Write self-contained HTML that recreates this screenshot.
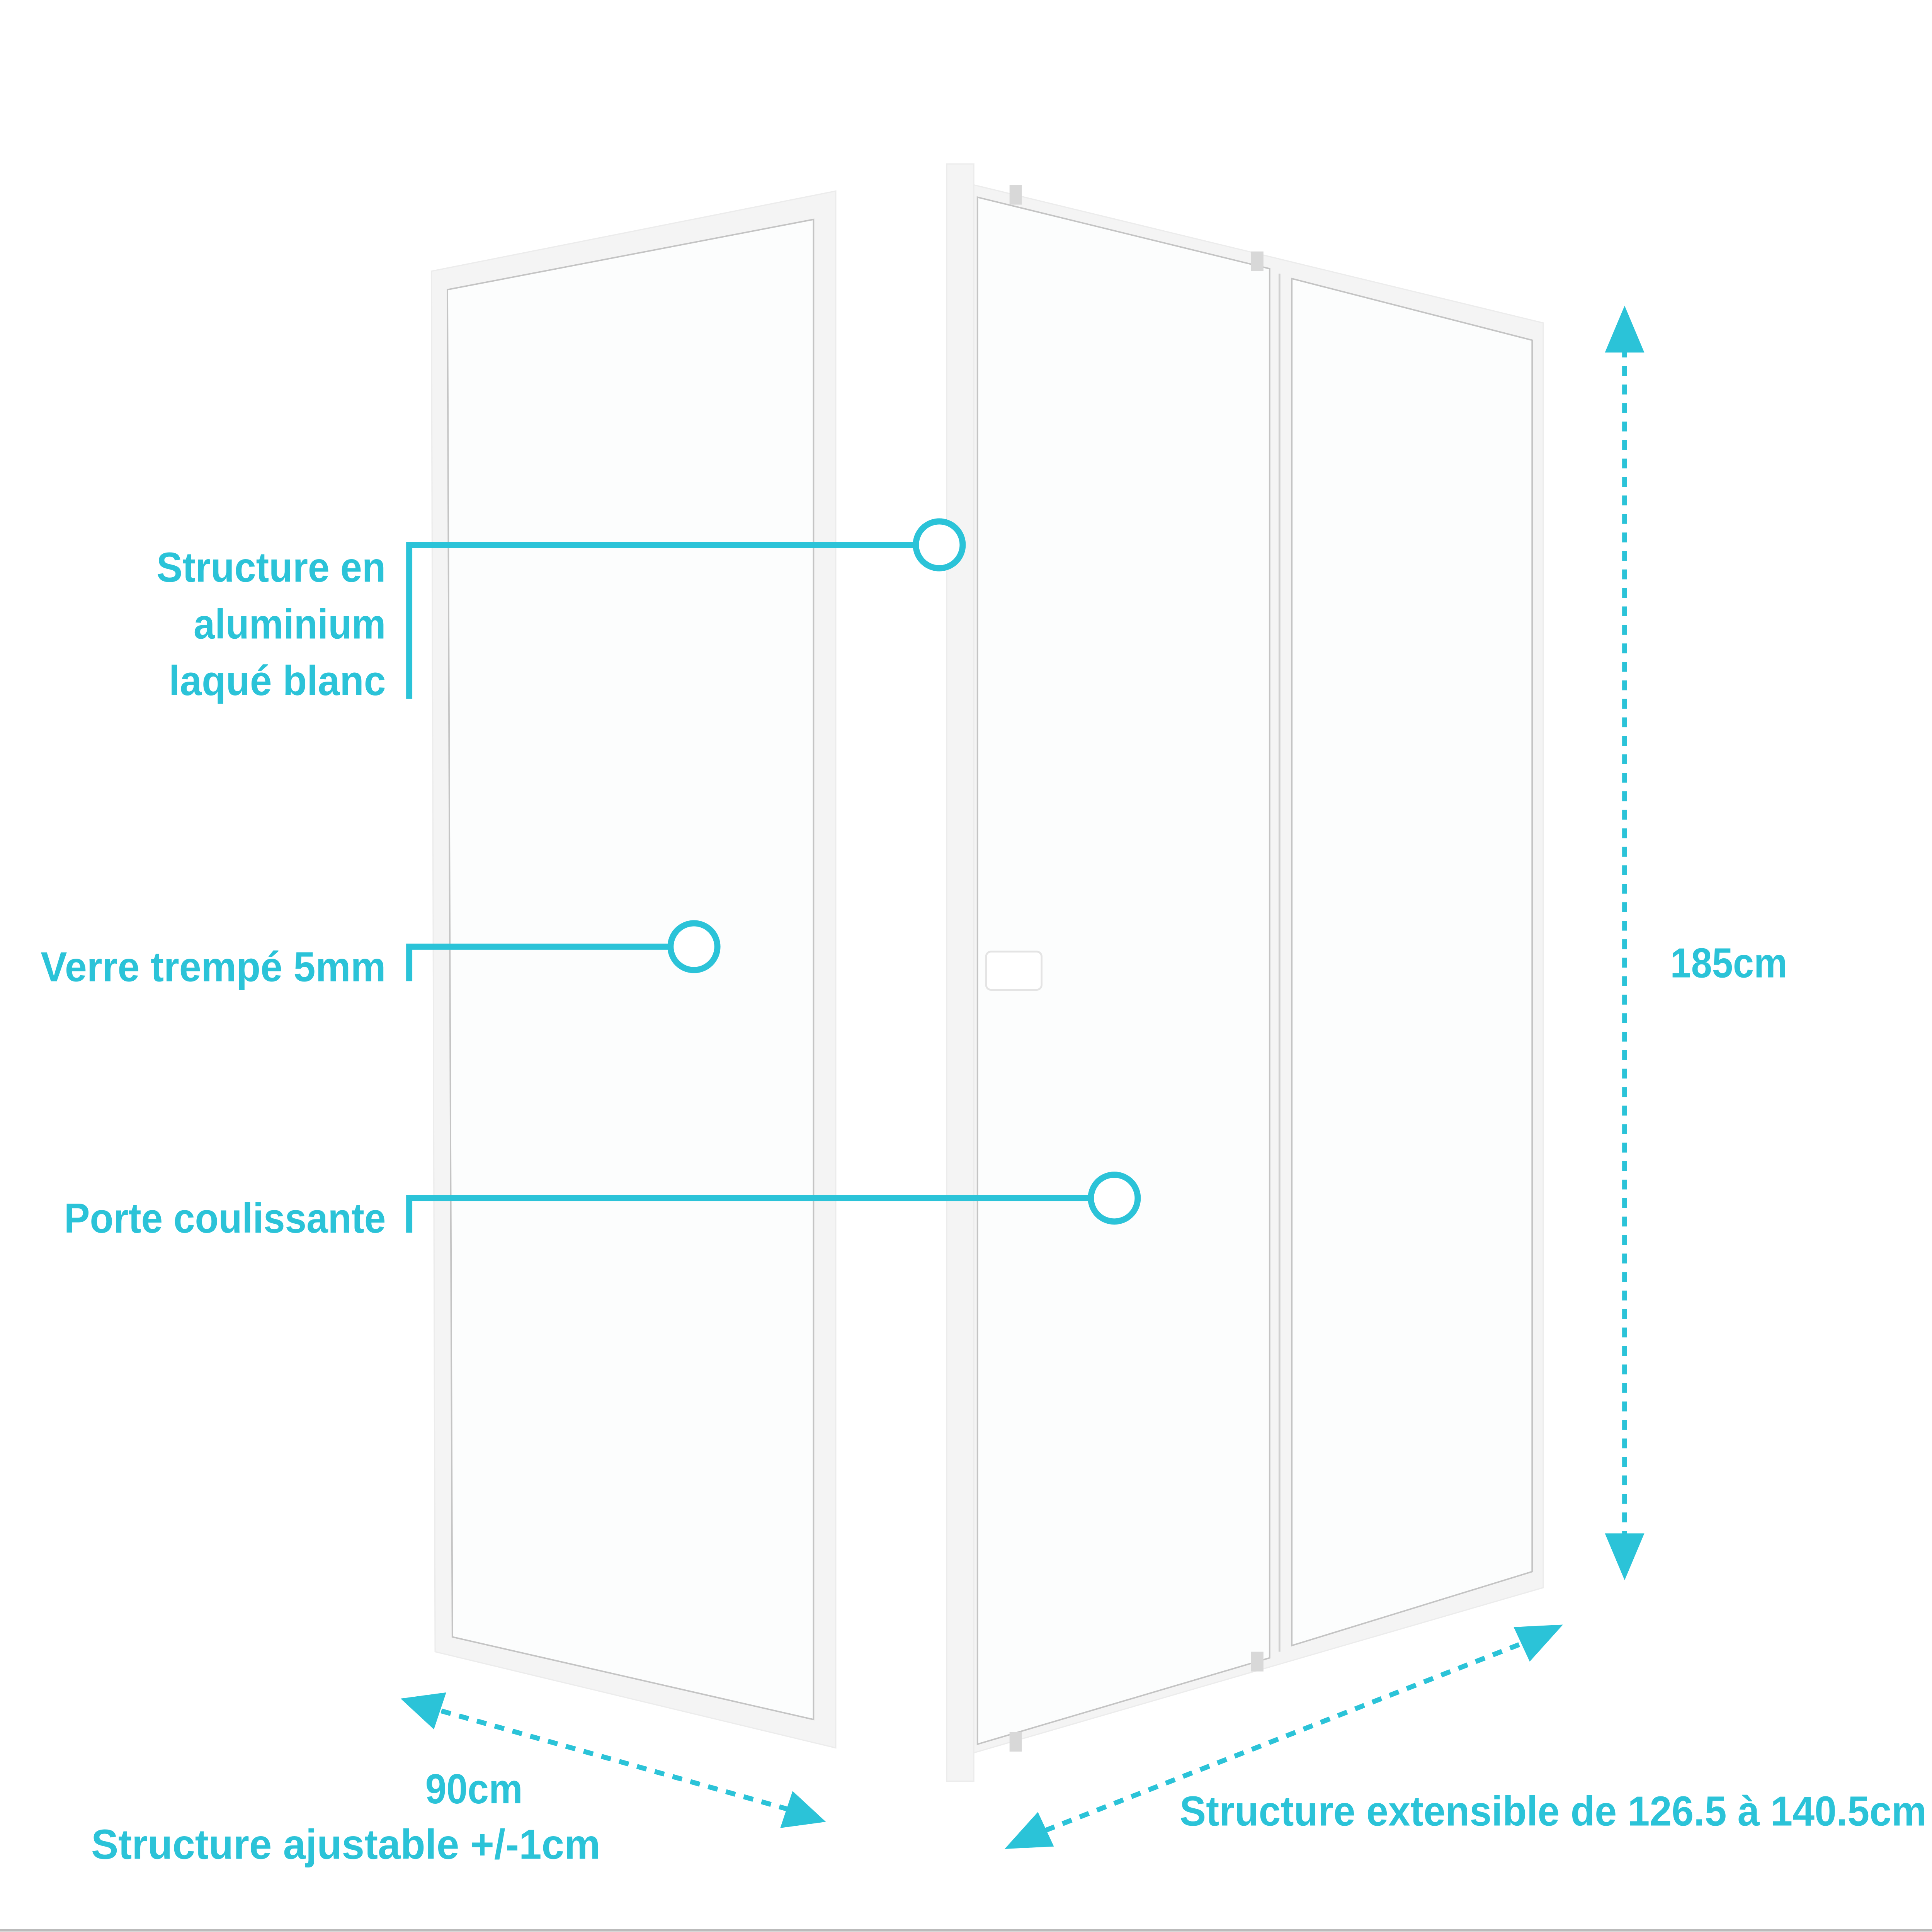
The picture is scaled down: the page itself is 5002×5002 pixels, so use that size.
<!DOCTYPE html>
<html><head><meta charset="utf-8"><style>
html,body{margin:0;padding:0;background:#fff;width:5002px;height:5002px;overflow:hidden}
svg{display:block}
text{font-family:"Liberation Sans Narrow","Liberation Sans",sans-serif;fill:#2bc3d8;font-weight:bold}
</style></head><body>
<svg width="5002" height="5002" viewBox="0 0 1568 1568" xmlns="http://www.w3.org/2000/svg">
<rect width="1568" height="1568" fill="#fff"/>
<!-- left panel -->
<polygon points="350,220 678,155 678,1418 353,1340" fill="#f4f4f4" stroke="#ececec" stroke-width="1"/>
<polygon points="363,235 660,178 660,1395 367,1328" fill="#fcfdfd" stroke="#c4c4c4" stroke-width="1.2"/>
<!-- right panel -->
<rect x="768" y="133" width="22" height="1312" fill="#f4f4f4" stroke="#ececec" stroke-width="1"/>
<polygon points="790,150 1252,262 1252,1288 790,1422" fill="#f4f4f4" stroke="#ececec" stroke-width="1"/>
<polygon points="793,160 1030,218 1030,1345 793,1415" fill="#fcfdfd" stroke="#c4c4c4" stroke-width="1.2"/>
<polygon points="1048,226 1243,276 1243,1275 1048,1335" fill="#fcfdfd" stroke="#c4c4c4" stroke-width="1.2"/>
<line x1="1038" y1="222" x2="1038" y2="1340" stroke="#d0d0d0" stroke-width="1.5"/>
<rect x="800" y="772" width="45" height="31" rx="4" fill="#fff" stroke="#e4e4e4" stroke-width="1.5"/>
<rect x="1015" y="204" width="10" height="16" fill="#d8d8d8"/>
<rect x="819" y="150" width="10" height="16" fill="#d8d8d8"/>
<rect x="1015" y="1340" width="10" height="16" fill="#d8d8d8"/>
<rect x="819" y="1405" width="10" height="16" fill="#d8d8d8"/>
<!-- callouts -->
<g stroke="#2bc3d8" stroke-width="5" fill="none">
<polyline points="332,567 332,442 742,442"/>
<circle cx="762" cy="442" r="19" fill="#fff"/>
<polyline points="332,796 332,768 543,768"/>
<circle cx="563" cy="768" r="19" fill="#fff"/>
<polyline points="332,1000 332,972 885,972"/>
<circle cx="904" cy="972" r="19" fill="#fff"/>
</g>
<g stroke="#2bc3d8" stroke-width="4" stroke-dasharray="8,7" fill="none">
<line x1="1318" y1="282" x2="1318" y2="1250"/>
<line x1="358" y1="1388" x2="640" y2="1468"/>
<line x1="848" y1="1485" x2="1238" y2="1332"/>
</g>
<g fill="#2bc3d8">
<polygon points="1318,248 1302,286 1334,286"/>
<polygon points="1318,1282 1302,1244 1334,1244"/>
<polygon points="325,1378 362,1373 352,1403"/>
<polygon points="670,1478 633,1483 643,1453"/>
<polygon points="815,1500 842,1470 855,1498"/>
<polygon points="1268,1318 1241,1348 1228,1320"/>
</g>
<g font-size="34">
<text x="127" y="472" textLength="186" lengthAdjust="spacingAndGlyphs">Structure en</text>
<text x="157" y="518" textLength="156" lengthAdjust="spacingAndGlyphs">aluminium</text>
<text x="137" y="564" textLength="176" lengthAdjust="spacingAndGlyphs">laqué blanc</text>
<text x="33" y="796" textLength="280" lengthAdjust="spacingAndGlyphs">Verre trempé 5mm</text>
<text x="52" y="1000" textLength="261" lengthAdjust="spacingAndGlyphs">Porte coulissante</text>
<text x="1355" y="793" textLength="95" lengthAdjust="spacingAndGlyphs">185cm</text>
<text x="345" y="1463" textLength="79" lengthAdjust="spacingAndGlyphs">90cm</text>
<text x="74" y="1508" textLength="413" lengthAdjust="spacingAndGlyphs">Structure ajustable +/-1cm</text>
<text x="957" y="1481" textLength="606" lengthAdjust="spacingAndGlyphs">Structure extensible de 126.5 à 140.5cm</text>
</g>
<line x1="0" y1="1566" x2="1568" y2="1566" stroke="#bbb" stroke-width="2"/>
</svg>
</body></html>
